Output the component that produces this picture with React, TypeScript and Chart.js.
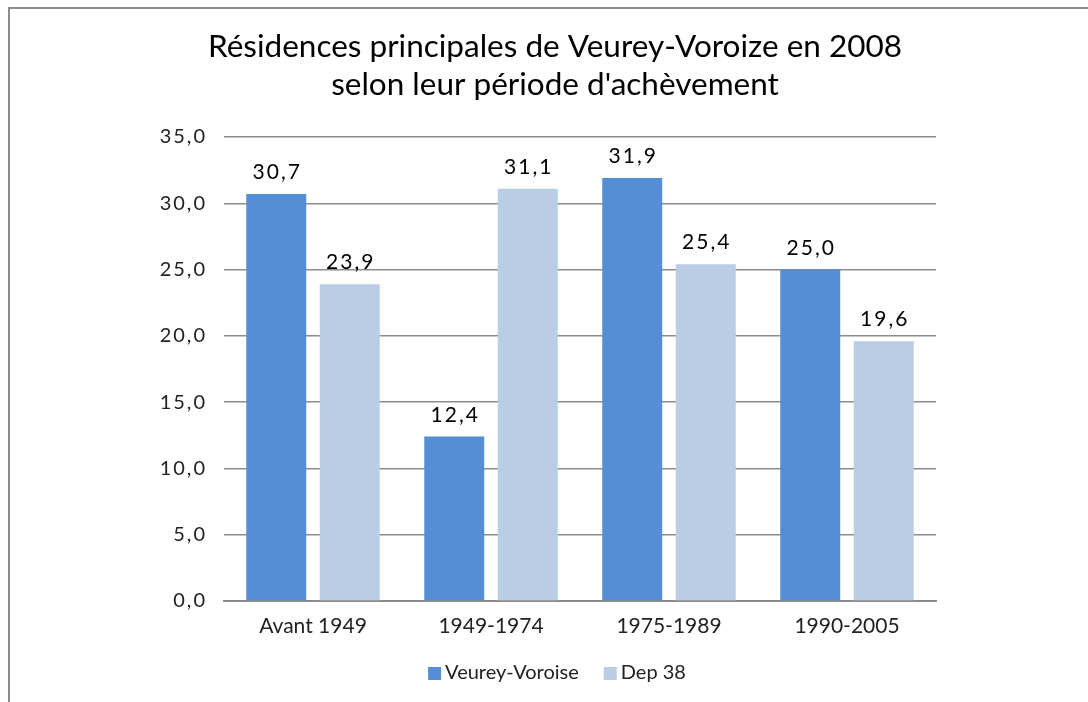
import React, { useEffect, useRef } from "react";
import { Chart, registerables } from "chart.js";

Chart.register(...registerables);

const categories = ["Avant 1949", "1949-1974", "1975-1989", "1990-2005"];
const seriesNames = ["Veurey-Voroise", "Dep 38"];
const veureyValues = [30.7, 12.4, 31.9, 25.0];
const depValues = [23.9, 31.1, 25.4, 19.6];
const yTicks = [0, 5, 10, 15, 20, 25, 30, 35];
const titleLines = [
  "Résidences principales de Veurey-Voroize en 2008",
  "selon leur période d'achèvement",
];

const colors = ["#558ED5", "#B9CDE5"];
const FONT = "Lato, 'Noto Sans', sans-serif";
const fmt = (v: number) => v.toFixed(1).replace(".", ",");

const framePlugin = {
  id: "frame",
  beforeDraw(chart: any) {
    const ctx = chart.ctx;
    ctx.save();
    ctx.fillStyle = "#ffffff";
    ctx.fillRect(0, 0, chart.width, chart.height);
    ctx.fillStyle = "#8c8c8c";
    ctx.fillRect(8, 7, chart.width - 8, 2);
    ctx.fillRect(8, 7, 2, chart.height - 7);
    ctx.restore();
  },
};

const labelsPlugin = {
  id: "valueLabels",
  afterDatasetsDraw(chart: any) {
    const ctx = chart.ctx;
    ctx.save();
    ctx.fillStyle = "#000000";
    ctx.font = `21px ${FONT}`;
    (ctx as any).letterSpacing = "2px";
    ctx.textAlign = "center";
    ctx.textBaseline = "alphabetic";
    chart.data.datasets.forEach((ds: any, di: number) => {
      const meta = chart.getDatasetMeta(di);
      meta.data.forEach((bar: any, i: number) => {
        ctx.fillText(fmt(ds.data[i]), bar.x + 1, bar.y - 15);
      });
    });
    // y tick labels
    const y = chart.scales.y;
    ctx.fillStyle = "#222222";
    ctx.font = `20px ${FONT}`;
    (ctx as any).letterSpacing = "2px";
    ctx.textAlign = "right";
    ctx.textBaseline = "middle";
    yTicks.forEach((t) => {
      ctx.fillText(fmt(t), 207, y.getPixelForValue(t));
    });
    ctx.restore();
  },
  afterDraw(chart: any) {
    // legend
    const ctx = chart.ctx;
    ctx.save();
    ctx.font = `20px ${FONT}`;
    (ctx as any).letterSpacing = "0px";
    const box = 13;
    const gapText = 4;
    const gapItem = 25;
    const ds = chart.data.datasets;
    const widths = ds.map((d: any) => ctx.measureText(d.label).width);
    let total = 0;
    widths.forEach((w: number, i: number) => {
      total += box + gapText + w + (i < widths.length - 1 ? gapItem : 0);
    });
    let x = 557 - total / 2;
    const cy = 673;
    ds.forEach((d: any, i: number) => {
      ctx.fillStyle = d.backgroundColor;
      ctx.fillRect(x, cy - 6, box, box);
      x += box + gapText;
      ctx.fillStyle = "#222222";
      ctx.textAlign = "left";
      ctx.textBaseline = "middle";
      ctx.fillText(d.label, x, cy);
      x += widths[i] + gapItem;
    });
    ctx.restore();
  },
};

export default function App() {
  const ref = useRef<HTMLCanvasElement | null>(null);
  useEffect(() => {
    document.body.style.margin = "0";
    const canvas = ref.current!;
    const chart = new Chart(canvas, {
      type: "bar",
      data: {
        labels: categories,
        datasets: [
          {
            label: seriesNames[0],
            data: veureyValues,
            backgroundColor: colors[0],
            categoryPercentage: 0.826,
            barPercentage: 0.816,
          },
          {
            label: seriesNames[1],
            data: depValues,
            backgroundColor: colors[1],
            categoryPercentage: 0.826,
            barPercentage: 0.816,
          },
        ],
      },
      options: {
        responsive: false,
        animation: false,
        layout: { padding: { top: 0, right: 0, bottom: 0, left: 22 } },
        plugins: {
          title: {
            display: true,
            text: titleLines,
            color: "#000000",
            font: { family: FONT, size: 31.5, weight: "normal", lineHeight: 1.206 },
            padding: { top: 28, bottom: 33 },
          },
          legend: { display: false },
          tooltip: { enabled: false },
        },
        scales: {
          x: {
            grid: { display: false },
            border: { display: true, color: "#8c8c8c", width: 2 },
            ticks: { color: "#222222", font: { family: FONT, size: 21 }, padding: 5 },
            afterFit: (scale: any) => {
              scale.height = 101;
            },
          },
          y: {
            min: 0,
            max: 35,
            ticks: { stepSize: 5, display: false },
            grid: { color: "#8c8c8c", lineWidth: 1.5, drawTicks: false },
            border: { display: false },
            afterFit: (scale: any) => {
              scale.width = 202;
            },
          },
          yRight: {
            position: "right",
            display: true,
            min: 0,
            max: 35,
            ticks: { display: false },
            grid: { display: false, drawTicks: false },
            border: { display: false },
            afterFit: (scale: any) => {
              scale.width = 152;
            },
          },
        },
      },
      plugins: [framePlugin, labelsPlugin],
    });
    return () => chart.destroy();
  }, []);
  return (
    <div style={{ width: 1088, height: 702 }}>
      <canvas ref={ref} width={1088} height={702} />
    </div>
  );
}
